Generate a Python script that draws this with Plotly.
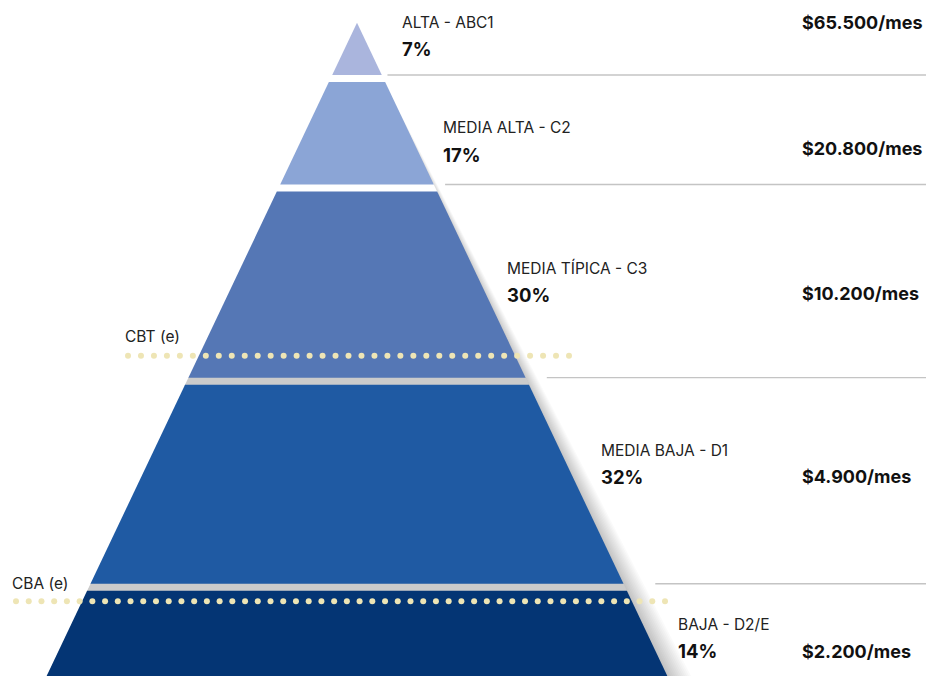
import numpy as np
import plotly.graph_objects as go

# Socioeconomic strata, from bottom to top of the pyramid
strata = ["BAJA - D2/E", "MEDIA BAJA - D1", "MEDIA TÍPICA - C3", "MEDIA ALTA - C2", "ALTA - ABC1"]
shares = [14, 32, 30, 17, 7]                       # % of households
incomes = ["$2.200/mes", "$4.900/mes", "$10.200/mes", "$20.800/mes", "$65.500/mes"]
colors = ["#043574", "#1f5aa3", "#5577b5", "#8ba5d6", "#aab5dd"]

# Poverty thresholds, as cumulative share from the bottom (%)
thresholds = ["CBA (e)", "CBT (e)"]
threshold_levels = [12.4, 50.5]

# ---- geometry / style ----
W, H = 926, 676
CX = 357            # horizontal centre of the pyramid (x units)
SLOPE = 3.06        # half-width gained per % unit going down
APEX = 102.2        # tip of the pyramid (y units)
GAP = 1.1           # cut between strata (y units)
Y_RANGE = [0.776, 105.75]
gap_colors = ["#cbcbcb", "#cbcbcb", "#ffffff", "#ffffff"]


def hw(y):
    return SLOPE * (APEX - y)


fig = go.Figure()

# soft shadow along the right flank
n_sh = 12
for j in range(n_sh, 0, -1):
    f = j / n_sh
    xs = [CX, CX + hw(-5) * (1 + 0.065 * f) + 4 * f, CX - hw(-5), CX]
    ys = [APEX - 1, -5, -5, APEX - 1]
    fig.add_trace(go.Scatter(x=xs, y=ys, fill="toself", mode="none",
                             fillcolor="rgba(0,0,0,0.02)", hoverinfo="skip",
                             showlegend=False))

cum = np.concatenate([[0], np.cumsum(shares)])

# gaps between strata
for i in range(1, len(shares)):
    lo, hi = cum[i] - 0.2, cum[i] + GAP + 0.2
    xs = [CX - hw(lo), CX + hw(lo), CX + hw(hi), CX - hw(hi), CX - hw(lo)]
    ys = [lo, lo, hi, hi, lo]
    fig.add_trace(go.Scatter(x=xs, y=ys, fill="toself", mode="none",
                             fillcolor=gap_colors[i - 1], hoverinfo="skip",
                             showlegend=False))

# strata
for i, (name, c) in enumerate(zip(strata, colors)):
    lo = cum[i] + (GAP if i > 0 else -5)
    hi = cum[i + 1] if i < len(shares) - 1 else APEX
    xs = [CX - hw(lo), CX + hw(lo), CX + hw(hi), CX - hw(hi), CX - hw(lo)]
    ys = [lo, lo, hi, hi, lo]
    fig.add_trace(go.Scatter(x=xs, y=ys, fill="toself", mode="none",
                             fillcolor=c, name=name, hoverinfo="skip",
                             showlegend=False))

# guide lines to the income column
for i in range(1, len(shares)):
    y = cum[i] + GAP
    x0 = CX + hw(y) + 0.33 * (APEX - y) + 3
    fig.add_trace(go.Scatter(x=[x0, W], y=[y, y], mode="lines",
                             line=dict(color="#c4c4c4", width=1.3),
                             hoverinfo="skip", showlegend=False))

# dotted threshold lines
dot_spans = [(16, 665, 52), (128, 569, 35)]
for lvl, (xa, xb, n) in zip(threshold_levels, dot_spans):
    xs = np.linspace(xa, xb, n)
    fig.add_trace(go.Scatter(x=xs, y=[lvl] * n, mode="markers",
                             marker=dict(color="#eee5b5", size=6, line=dict(width=0)),
                             hoverinfo="skip", showlegend=False))

FONT = "Inter, Roboto, sans-serif"
ann = []

# label positions (pixels from top-left), bottom stratum first
name_pos = [(678, 624), (601, 450), (507, 268), (443, 128), (402, 22)]
pct_dy = 27
income_x = 802
income_y = [651, 476, 293, 149, 22]


def P(x, y):
    return x / W, 1 - y / H


def text(x, y, s, size, color):
    px, py = P(x - 2, y)
    return dict(x=px, y=py, xref="paper", yref="paper", text=s, showarrow=False,
                xanchor="left", yanchor="middle",
                font=dict(family=FONT, size=size, color=color))


for name, s, inc, (nx, ny), iy in zip(strata, shares, incomes, name_pos, income_y):
    ann.append(text(nx, ny, name, 15.5, "#222"))
    ann.append(text(nx, ny + pct_dy, f"<b>{s}%</b>", 18.5, "#111"))
    ann.append(text(income_x, iy, f"<b>{inc}</b>", 18, "#111"))

thr_pos = [(12, 583), (125, 336)]
for t, (tx, ty) in zip(thresholds, thr_pos):
    ann.append(text(tx, ty, t, 15.5, "#222"))

fig.update_layout(
    width=W, height=H,
    margin=dict(l=0, r=0, t=0, b=0),
    paper_bgcolor="white", plot_bgcolor="white",
    xaxis=dict(range=[0, W], visible=False, fixedrange=True),
    yaxis=dict(range=Y_RANGE, visible=False, fixedrange=True),
    annotations=ann,
    showlegend=False,
)

fig.write_html("out.html", config={"displayModeBar": False})
